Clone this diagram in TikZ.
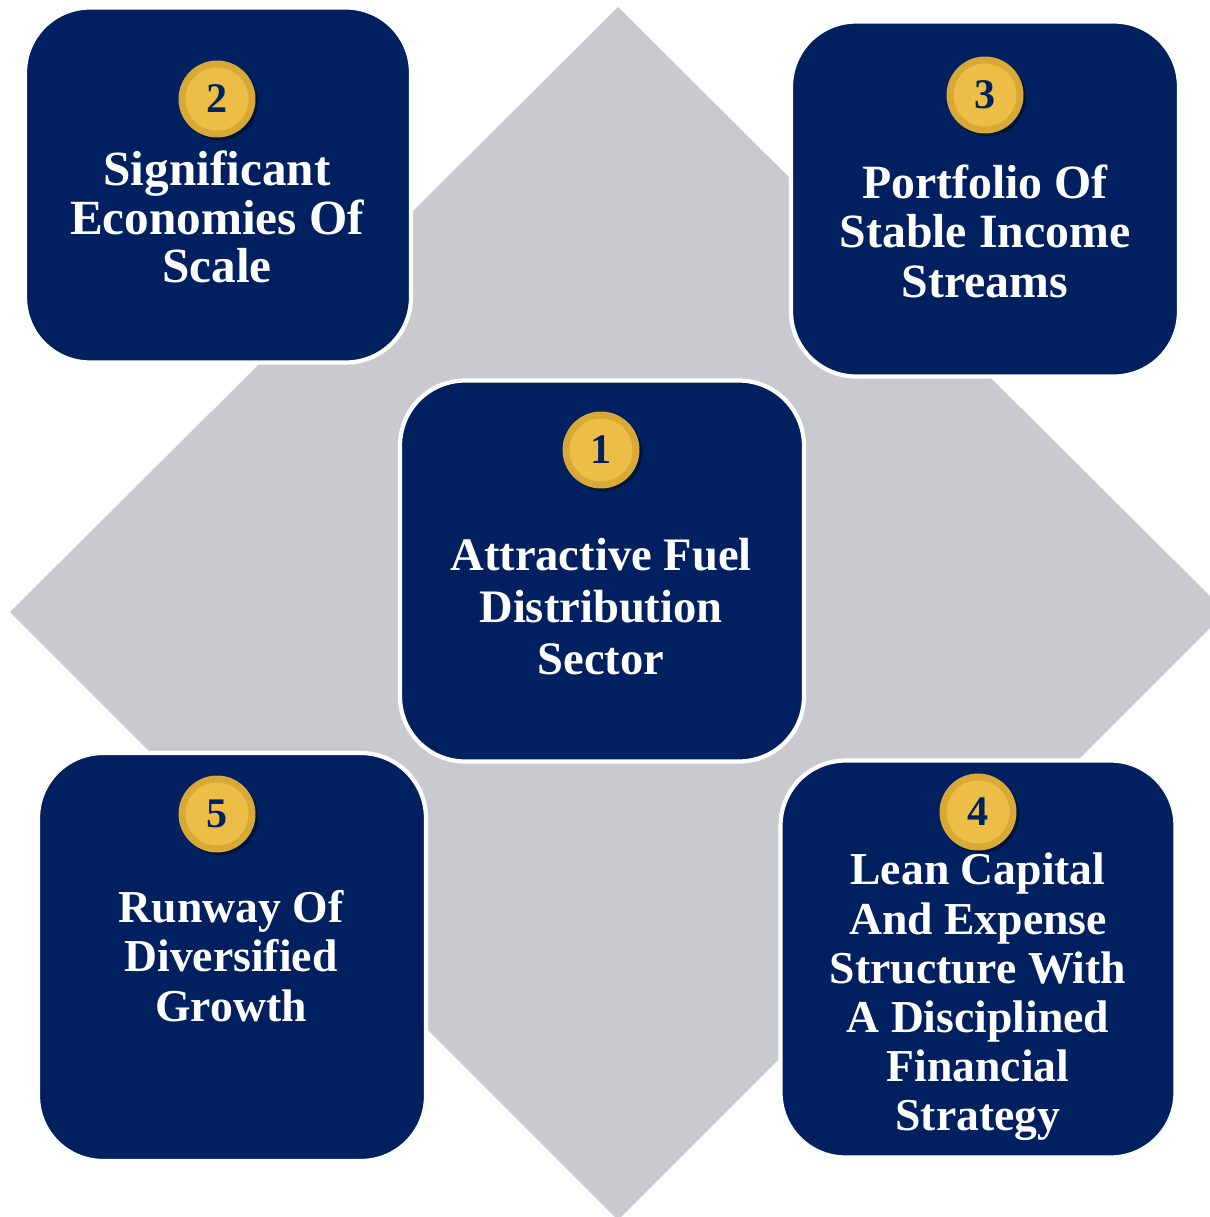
\documentclass[tikz,border=0pt]{standalone}
\usepackage{fontspec}
\setmainfont{Liberation Serif}
\usepackage{xcolor}
\usetikzlibrary{shadows}
\definecolor{navy}{RGB}{0,32,96}
\definecolor{pale}{RGB}{201,202,207}
\definecolor{gold}{RGB}{237,190,69}
\definecolor{golddark}{RGB}{216,169,54}

\begin{document}
\begin{tikzpicture}[x=0.02cm,y=-0.02cm,
  card/.style={draw=white,line width=2.4pt,fill=navy,rounded corners=1.3cm},
  coin/.style={circle,fill=golddark,minimum size=1.54cm,inner sep=0pt,text=navy,
    font=\fontsize{24}{24}\selectfont\bfseries,
    drop shadow={shadow xshift=1.5pt,shadow yshift=-1.5pt,opacity=0.4,fill=black},
    path picture={\fill[gold] (path picture bounding box.center) circle (0.63cm);}},
  blurb/.style={text=white,align=center,font=\fontsize{26}{28}\selectfont\bfseries}]
\clip (0,0) rectangle (1210,1217);
\fill [pale] (618,7) -- (1226,612) -- (618,1220) -- (10,612) -- cycle;
\node [card,minimum width=7.72cm,minimum height=7.1cm] (box2) at (218,185) {};
\node [card,minimum width=7.76cm,minimum height=7.1cm] (box3) at (985,199) {};
\node [card,minimum width=7.76cm,minimum height=8.16cm] (box5) at (232,957) {};
\node [card,minimum width=7.9cm,minimum height=7.94cm] (box4) at (978,959) {};
\node [card,minimum width=8.08cm,minimum height=7.62cm] (box1) at (602,571) {};
\node [coin] (c1) at (601,450) {1};
\node [coin] (c2) at (217,99) {2};
\node [coin] (c3) at (985,95) {3};
\node [coin] (c4) at (978,812) {4};
\node [coin] (c5) at (217,814) {5};
\node [blurb,font=\fontsize{26.5}{29.6}\selectfont\bfseries] (t1) at (601,607) {Attractive Fuel\\Distribution\\Sector};
\node [blurb,font=\fontsize{28}{27.4}\selectfont\bfseries] (t2) at (217,217) {Significant\\Economies Of\\Scale};
\node [blurb,font=\fontsize{27.2}{28.2}\selectfont\bfseries] (t3) at (985,231) {Portfolio Of\\Stable Income\\Streams};
\node [blurb] (t4) at (978,997) {Lean Capital\\And Expense\\Structure With\\A Disciplined\\Financial\\Strategy};
\node [blurb] (t5) at (231,956) {Runway Of\\Diversified\\Growth};
\end{tikzpicture}
\end{document}
